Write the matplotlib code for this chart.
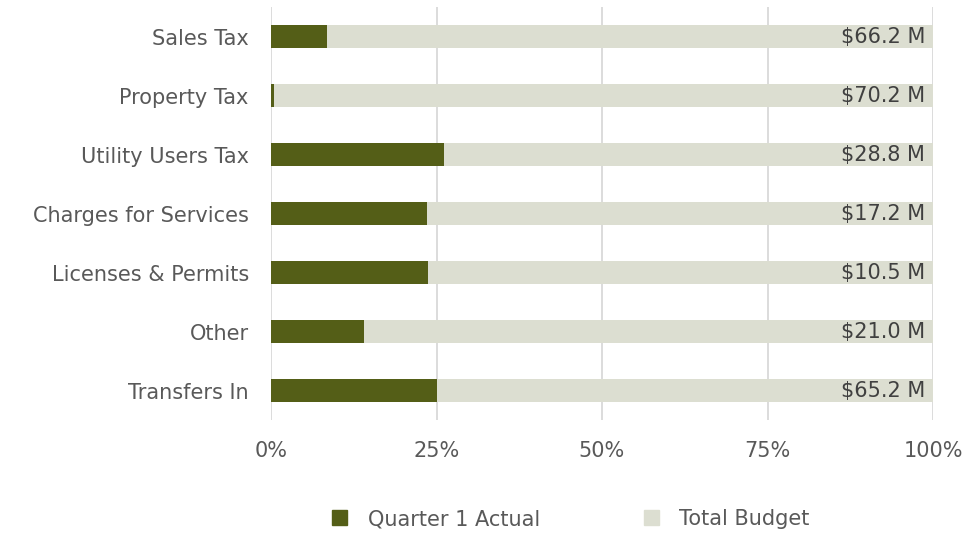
import numpy as np
import matplotlib.pyplot as plt
from matplotlib.patches import Patch

# Datos del gráfico
categories = ["Sales Tax", "Property Tax", "Utility Users Tax", "Charges for Services",
              "Licenses & Permits", "Other", "Transfers In"]
q1_actual_pct = [8.4, 0.5, 26.1, 23.6, 23.7, 14.0, 25.0]
total_budget_pct = [100, 100, 100, 100, 100, 100, 100]
budget_labels = ["$66.2 M", "$70.2 M", "$28.8 M", "$17.2 M", "$10.5 M", "$21.0 M", "$65.2 M"]
x_ticks = [0, 25, 50, 75, 100]

dark = "#545e17"
light = "#dcded1"
text_color = "#595959"
fs = 15

plt.rcParams['font.family'] = ['DejaVu Sans']

fig = plt.figure(figsize=(9.77, 5.33), dpi=100)
ax = fig.add_axes([271 / 977, 1 - 420 / 533, 662 / 977, 413 / 533])

y = np.arange(len(categories))

# Barras
ax.barh(y, total_budget_pct, height=0.4, color=light, zorder=1)
ax.barh(y, q1_actual_pct, height=0.4, color=dark, zorder=2)

# Rótulos de orçamento
for yi, lab in zip(y, budget_labels):
    ax.text(98.8, yi, lab, ha='right', va='center', fontsize=fs, color="#404040", zorder=3)

ax.set_xlim(0, 100)
ax.set_ylim(len(categories) - 0.5, -0.5)
ax.set_yticks(y)
ax.set_yticklabels(categories, fontsize=fs, color=text_color)
ax.set_xticks(x_ticks)
ax.set_xticklabels([f"{t}%" for t in x_ticks], fontsize=fs, color=text_color)
ax.tick_params(length=0)
ax.tick_params(axis='y', pad=16)
ax.tick_params(axis='x', pad=15)

for t in x_ticks:
    ax.axvline(t, color="#d9d9d9", linewidth=1.3, zorder=0)

for s in ax.spines.values():
    s.set_visible(False)

handles = [Patch(color=dark, label="Quarter 1 Actual"),
           Patch(color=light, label="Total Budget")]
fig.legend(handles=handles, loc='center', bbox_to_anchor=(571 / 977, 1 - 519 / 533),
           ncol=2, frameon=False, fontsize=fs, labelcolor=text_color,
           handlelength=0.7, handleheight=0.7, columnspacing=5.0, handletextpad=1.0)

fig.savefig("out.png", dpi=100)
